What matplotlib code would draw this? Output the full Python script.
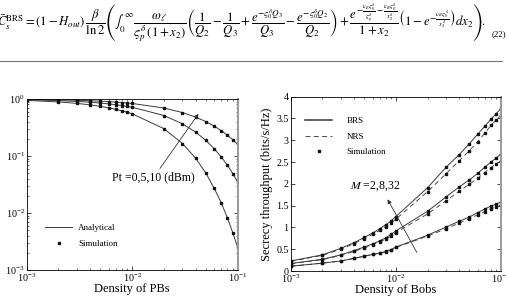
import matplotlib
matplotlib.use("Agg")
import matplotlib.pyplot as plt
from matplotlib.lines import Line2D

# ====== 数据 ======
density = [0.001, 0.002, 0.003, 0.004, 0.005, 0.006, 0.007, 0.008, 0.009, 0.01,
           0.02, 0.03, 0.04, 0.05, 0.06, 0.07, 0.08, 0.09, 0.1]

# 左图：Pt = 0, 5, 10 dBm
cov_pt10 = [0.982, 0.964, 0.947, 0.929, 0.913, 0.896, 0.880, 0.864, 0.848, 0.833,
            0.693, 0.577, 0.481, 0.400, 0.333, 0.278, 0.231, 0.193, 0.160]
cov_pt5 = [0.967, 0.935, 0.904, 0.875, 0.846, 0.818, 0.791, 0.765, 0.740, 0.715,
           0.512, 0.366, 0.262, 0.187, 0.134, 0.096, 0.069, 0.049, 0.035]
cov_pt0 = [0.942, 0.887, 0.835, 0.787, 0.741, 0.698, 0.657, 0.619, 0.583, 0.549,
           0.301, 0.165, 0.091, 0.050, 0.027, 0.015, 0.0082, 0.0045, 0.0025]

# 右图：M = 32, 8, 2
brs_m32 = [0.23, 0.37, 0.52, 0.65, 0.77, 0.87, 0.97, 1.06, 1.15, 1.25,
           1.91, 2.38, 2.67, 2.92, 3.14, 3.32, 3.48, 3.61, 3.73]
nrs_m32 = [0.22, 0.36, 0.50, 0.63, 0.74, 0.84, 0.93, 1.01, 1.10, 1.19,
           1.82, 2.23, 2.53, 2.76, 2.97, 3.16, 3.34, 3.47, 3.57]
brs_m8 = [0.17, 0.27, 0.37, 0.47, 0.55, 0.62, 0.69, 0.76, 0.84, 0.92,
          1.37, 1.70, 1.93, 2.09, 2.24, 2.38, 2.50, 2.59, 2.69]
nrs_m8 = [0.17, 0.26, 0.36, 0.45, 0.53, 0.60, 0.67, 0.73, 0.80, 0.88,
          1.31, 1.61, 1.83, 1.99, 2.13, 2.26, 2.37, 2.46, 2.53]
brs_m2 = [0.11, 0.18, 0.23, 0.29, 0.34, 0.38, 0.41, 0.45, 0.49, 0.55,
          0.82, 1.01, 1.14, 1.24, 1.34, 1.42, 1.49, 1.53, 1.59]
nrs_m2 = [0.11, 0.18, 0.23, 0.29, 0.34, 0.38, 0.41, 0.44, 0.48, 0.54,
          0.80, 0.97, 1.10, 1.20, 1.29, 1.36, 1.43, 1.47, 1.51]

throughput_ticks = [0, 0.5, 1, 1.5, 2, 2.5, 3, 3.5, 4]
throughput_labels = ["0", "0.5", "1", "1.5", "2", "2.5", "3", "3.5", "4"]
# ========================================

LINE_COLOR = "#3a3a3a"
LW = 0.7
MS = 1.8

plt.rcParams["font.family"] = ["Liberation Serif", "DejaVu Serif"]
plt.rcParams["mathtext.fontset"] = "stix"
plt.rcParams["lines.scale_dashes"] = False


def style_axes(ax):
    ax.tick_params(which="both", direction="in", top=True, right=True,
                   labelsize=7.2, pad=1.5)
    ax.tick_params(which="major", length=3, width=0.5)
    ax.tick_params(which="minor", length=1.5, width=0.4)
    for side in ("left", "top", "bottom"):
        ax.spines[side].set_linewidth(0.6)
    ax.spines["right"].set_linewidth(1.4)
    ax.spines["right"].set_color("#9a9a9a")


fig = plt.figure(figsize=(5.07, 2.98), dpi=100)

# 公式 (22)
eq = (r"$\bar{C}_s^{\mathrm{BRS}} = (1-H_{out})\,\dfrac{\beta}{\ln 2}"
      r"\left(\int_0^{\infty}\,\dfrac{\omega_\ell}{\varsigma_p^{\delta}\,(1+x_2)}"
      r"\left(\dfrac{1}{Q_2}-\dfrac{1}{Q_3}+\dfrac{e^{-\varsigma_0^{\delta}Q_3}}{Q_3}"
      r"-\dfrac{e^{-\varsigma_0^{\delta}Q_2}}{Q_2}\right)"
      r"+\dfrac{e^{-\frac{\nu_E\varsigma_0^{\delta}}{\varsigma_p^{\delta}}"
      r"-\frac{\nu_B\varsigma_0^{\delta}}{x_2^{\delta}}}}{1+x_2}"
      r"\left(1-e^{-\frac{\nu_B\varsigma_0^{\delta}}{x_2^{\delta}}}\right)dx_2\right).$")
fig.text(-0.006, 0.925, eq, fontsize=9.2, ha="left", va="center")
fig.text(0.998, 0.885, "(22)", fontsize=6.5, ha="right", va="center")
fig.add_artist(Line2D([0.0, 0.99], [0.795, 0.795], transform=fig.transFigure,
                      color="#777777", lw=0.8))

# 左图
ax1 = fig.add_axes([0.0527, 0.094, 0.416, 0.574])
for vals in (cov_pt10, cov_pt5, cov_pt0):
    ax1.plot(density, vals, color=LINE_COLOR, lw=LW)
    ax1.plot(density, vals, ls="none", marker="s", ms=MS, color="#111111")
ax1.set_xscale("log")
ax1.set_yscale("log")
ax1.set_xlim(1e-3, 1e-1)
ax1.set_ylim(1e-3, 1)
ax1.set_xlabel("Density of PBs", fontsize=9, labelpad=-1)
style_axes(ax1)
ax1.annotate("", xy=(0.044, 0.60), xytext=(0.0177, 0.055),
             arrowprops=dict(arrowstyle="-|>", lw=0.6, color="#333333",
                             mutation_scale=6))
ax1.text(0.0064, 0.043, "Pt =0,5,10 (dBm)", fontsize=8.5, va="center")
h_ana = Line2D([], [], color=LINE_COLOR, lw=LW)
h_sim = Line2D([], [], ls="none", marker="s", ms=MS, color="#111111")
ax1.legend([h_ana, h_sim], ["Analytical", "Simulation"], loc="lower left",
           bbox_to_anchor=(0.05, 0.08), frameon=False, fontsize=6.5,
           handlelength=3.0, handletextpad=0.6, labelspacing=0.9)

# 右图
ax2 = fig.add_axes([0.5734, 0.0906, 0.4148, 0.585])
for brs, nrs in ((brs_m32, nrs_m32), (brs_m8, nrs_m8), (brs_m2, nrs_m2)):
    ax2.plot(density, brs, color=LINE_COLOR, lw=LW)
    ax2.plot(density, nrs, color=LINE_COLOR, lw=LW * 0.9, ls="--",
             dashes=(3.5, 2.5))
    ax2.plot(density, brs, ls="none", marker="s", ms=MS, color="#111111")
    ax2.plot(density, nrs, ls="none", marker="s", ms=MS, color="#111111")
ax2.set_xscale("log")
ax2.set_xlim(1e-3, 1e-1)
ax2.set_ylim(0, 4)
ax2.set_yticks(throughput_ticks)
ax2.set_yticklabels(throughput_labels)
ax2.set_xlabel("Density of Bobs", fontsize=9, labelpad=-1)
ax2.set_ylabel("Secrecy throughput (bits/s/Hz)", fontsize=9, labelpad=2)
style_axes(ax2)
ax2.annotate("", xy=(0.0081, 1.70), xytext=(0.0163, 0.37),
             arrowprops=dict(arrowstyle="-|>", lw=0.6, color="#333333",
                             mutation_scale=6))
ax2.text(0.0037, 1.94, r"$M$ =2,8,32", fontsize=8.5, va="center")
h_brs = Line2D([], [], color=LINE_COLOR, lw=LW * 1.6)
h_nrs = Line2D([], [], color=LINE_COLOR, lw=LW * 0.9, ls="--", dashes=(3.5, 2.5))
ax2.legend([h_brs, h_nrs, h_sim], ["BRS", "NRS", "Simulation"],
           loc="upper left", bbox_to_anchor=(0.03, 0.93), frameon=False,
           fontsize=6.5, handlelength=3.0, handletextpad=1.6,
           labelspacing=0.8)

fig.savefig("out.png", dpi=100)
